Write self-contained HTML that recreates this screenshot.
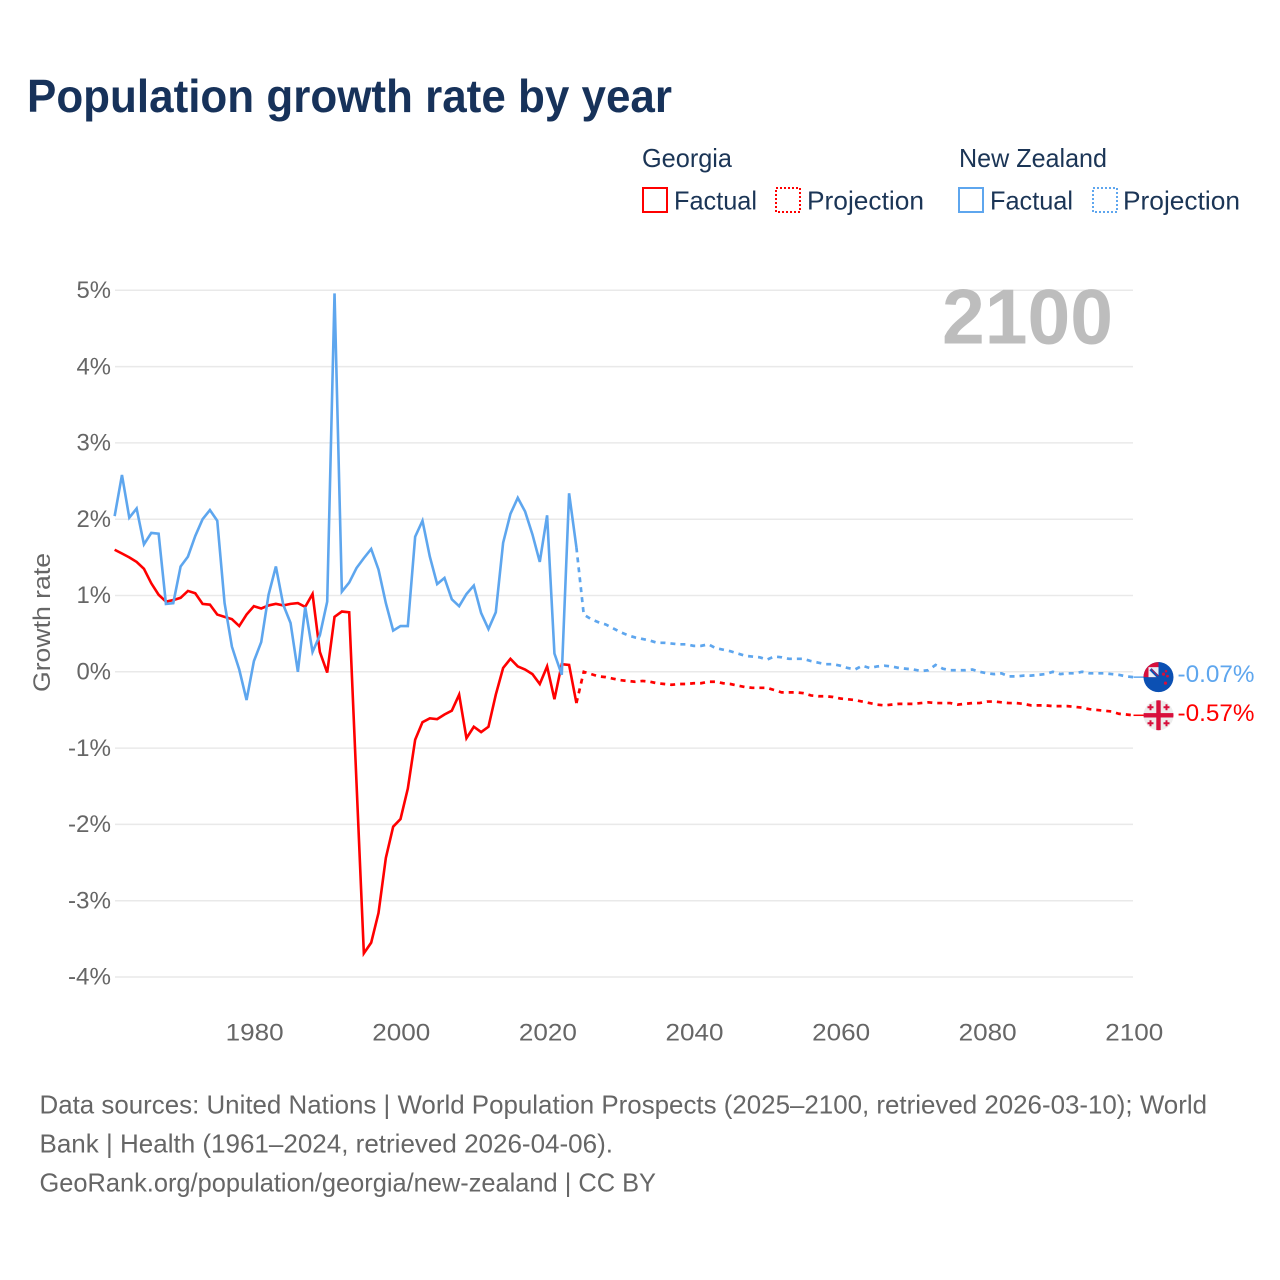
<!DOCTYPE html>
<html lang="en">
<head>
<meta charset="utf-8">
<title>Population growth rate by year</title>
<style>
html,body{margin:0;padding:0;background:#fff;width:1280px;height:1280px;overflow:hidden}
svg{display:block}
text{font-family:"Liberation Sans",sans-serif}
</style>
</head>
<body>
<svg id="chart" xmlns="http://www.w3.org/2000/svg" width="1280" height="1280" viewBox="0 0 1280 1280">
  <defs>
    <clipPath id="nz-clip"><circle cx="0" cy="0" r="15"/></clipPath>
    <clipPath id="ge-clip"><circle cx="0" cy="0" r="15"/></clipPath>
  </defs>
  <rect x="0" y="0" width="1280" height="1280" fill="#fff"/>
  <text x="27" y="112" font-size="46.5" font-weight="700" fill="#17325a" textLength="645" lengthAdjust="spacingAndGlyphs">Population growth rate by year</text>

  <g font-size="26" fill="#1b3556">
    <text x="642" y="167" textLength="90" lengthAdjust="spacingAndGlyphs">Georgia</text>
    <text x="959" y="167" textLength="148" lengthAdjust="spacingAndGlyphs">New Zealand</text>
    <g>
      <rect x="643" y="188" width="24" height="24" fill="none" stroke="#ff0000" stroke-width="2"/>
      <text x="674" y="209.5" textLength="83" lengthAdjust="spacingAndGlyphs">Factual</text>
    </g>
    <g>
      <rect x="776" y="188" width="24" height="24" fill="none" stroke="#ff0000" stroke-width="2" stroke-dasharray="2,2"/>
      <text x="807" y="209.5" textLength="117" lengthAdjust="spacingAndGlyphs">Projection</text>
    </g>
    <g>
      <rect x="959" y="188" width="24" height="24" fill="none" stroke="#5ea6ee" stroke-width="2"/>
      <text x="990" y="209.5" textLength="83" lengthAdjust="spacingAndGlyphs">Factual</text>
    </g>
    <g>
      <rect x="1093" y="188" width="24" height="24" fill="none" stroke="#5ea6ee" stroke-width="2" stroke-dasharray="2,2"/>
      <text x="1123" y="209.5" textLength="117" lengthAdjust="spacingAndGlyphs">Projection</text>
    </g>
  </g>

  <g id="grid"></g>
  <text x="1113" y="343.5" text-anchor="end" font-size="78" font-weight="700" fill="#bdbdbd" textLength="171" lengthAdjust="spacingAndGlyphs">2100</text>
  <g id="y-ticks" font-size="24.5" fill="#666666"></g>
  <g id="x-ticks" font-size="24.5" fill="#666666"></g>
  <text transform="translate(50,622.5) rotate(-90)" text-anchor="middle" font-size="24.5" fill="#666666" textLength="139" lengthAdjust="spacingAndGlyphs">Growth rate</text>
  <g id="series"></g>
  <g id="endpoints"></g>

  <g font-size="26" fill="#666666">
    <text x="39.5" y="1113.5" textLength="1167.5" lengthAdjust="spacingAndGlyphs">Data sources: United Nations | World Population Prospects (2025–2100, retrieved 2026-03-10); World</text>
    <text x="39.5" y="1152.5" textLength="573.5" lengthAdjust="spacingAndGlyphs">Bank | Health (1961–2024, retrieved 2026-04-06).</text>
    <text x="39.5" y="1191.5" textLength="616.5" lengthAdjust="spacingAndGlyphs">GeoRank.org/population/georgia/new-zealand | CC BY</text>
  </g>
</svg>
<script>
const factualStartYear = 1961;
const projectionStartYear = 2024;
const yTickValues = [5, 4, 3, 2, 1, 0, -1, -2, -3, -4];
const xTickValues = [1980, 2000, 2020, 2040, 2060, 2080, 2100];

const georgiaFactual = [1.60,1.55,1.50,1.44,1.35,1.16,1.01,0.92,0.94,0.97,1.06,1.03,0.89,0.88,0.75,0.72,0.69,0.60,0.75,0.86,0.83,0.87,0.89,0.87,0.89,0.90,0.85,1.02,0.26,-0.01,0.72,0.79,0.78,-1.46,-3.69,-3.55,-3.16,-2.44,-2.03,-1.93,-1.53,-0.89,-0.66,-0.61,-0.62,-0.56,-0.51,-0.30,-0.87,-0.72,-0.79,-0.72,-0.30,0.05,0.17,0.07,0.03,-0.03,-0.16,0.07,-0.36,0.10,0.09,-0.41];
const newZealandFactual = [2.04,2.58,2.02,2.14,1.67,1.82,1.81,0.89,0.90,1.38,1.51,1.78,2.00,2.12,1.98,0.90,0.33,0.03,-0.37,0.14,0.39,1.01,1.38,0.88,0.64,0.00,0.85,0.26,0.48,0.92,4.96,1.05,1.17,1.36,1.49,1.61,1.34,0.90,0.54,0.60,0.60,1.77,1.98,1.51,1.15,1.23,0.95,0.86,1.02,1.13,0.77,0.56,0.78,1.69,2.07,2.28,2.10,1.80,1.44,2.05,0.24,-0.04,2.34,1.63];
const georgiaProjection = [-0.41,0.00,-0.03,-0.06,-0.07,-0.09,-0.11,-0.12,-0.13,-0.12,-0.13,-0.15,-0.16,-0.17,-0.16,-0.16,-0.15,-0.15,-0.13,-0.13,-0.15,-0.16,-0.18,-0.20,-0.21,-0.21,-0.21,-0.24,-0.27,-0.27,-0.27,-0.28,-0.31,-0.32,-0.32,-0.33,-0.35,-0.36,-0.37,-0.39,-0.41,-0.43,-0.44,-0.43,-0.42,-0.42,-0.42,-0.41,-0.40,-0.41,-0.41,-0.41,-0.43,-0.42,-0.41,-0.41,-0.39,-0.39,-0.40,-0.41,-0.41,-0.42,-0.44,-0.44,-0.44,-0.45,-0.45,-0.45,-0.46,-0.47,-0.49,-0.50,-0.51,-0.52,-0.55,-0.56,-0.57];
const newZealandProjection = [1.63,0.75,0.69,0.65,0.62,0.57,0.52,0.48,0.45,0.43,0.41,0.38,0.38,0.37,0.36,0.36,0.34,0.34,0.36,0.31,0.29,0.27,0.24,0.21,0.20,0.19,0.16,0.20,0.19,0.17,0.17,0.17,0.14,0.12,0.10,0.10,0.08,0.05,0.03,0.08,0.05,0.07,0.08,0.07,0.05,0.04,0.03,0.01,0.02,0.09,0.04,0.02,0.02,0.02,0.03,0.00,-0.02,-0.03,-0.02,-0.06,-0.06,-0.05,-0.05,-0.04,-0.03,0.00,-0.03,-0.02,-0.02,0.00,-0.02,-0.02,-0.02,-0.03,-0.04,-0.06,-0.07];

const RED = '#ff0000';
const BLUE = '#5ea6ee';
const NS = 'http://www.w3.org/2000/svg';

function xScale(year) { return 400.5 + (year - 2000) * 7.33; }
function yScale(value) { return 671.8 - value * 76.3; }

function make(tag, attrs, parent) {
  const el = document.createElementNS(NS, tag);
  for (const key in attrs) el.setAttribute(key, attrs[key]);
  parent.appendChild(el);
  return el;
}

function linePath(values, startYear) {
  return values.map(function (v, i) {
    return (i ? 'L' : 'M') + xScale(startYear + i).toFixed(2) + ' ' + yScale(v).toFixed(2);
  }).join(' ');
}

function labelWidth(str) {
  let w = 0;
  for (const c of str) w += c === '%' ? 20 : c === '-' ? 8.5 : 14.5;
  return w;
}

const gridGroup = document.getElementById('grid');
const yTickGroup = document.getElementById('y-ticks');
yTickValues.forEach(function (v) {
  const line = make('line', {x1: 115, x2: 1133, y1: yScale(v), y2: yScale(v), stroke: '#e9e9e9', 'stroke-width': 1.5}, gridGroup);
  
  
  const str = v + '%';
  const label = make('text', {x: 111, y: yScale(v) + 7.7, 'text-anchor': 'end', textLength: labelWidth(str), lengthAdjust: 'spacingAndGlyphs'}, yTickGroup);
  label.textContent = str;
  
  
});

const xTickGroup = document.getElementById('x-ticks');
xTickValues.forEach(function (year) {
  const label = make('text', {x: xScale(year) + 0.8, y: 1040.5, 'text-anchor': 'middle', textLength: 58, lengthAdjust: 'spacingAndGlyphs'}, xTickGroup);
  label.textContent = String(year);
  
  
});

const seriesGroup = document.getElementById('series');

const nzProjLine = make('path', {d: linePath(newZealandProjection, projectionStartYear), fill: 'none', stroke: BLUE, 'stroke-width': 2.7, 'stroke-dasharray': '5,5'}, seriesGroup);



const geProjLine = make('path', {d: linePath(georgiaProjection, projectionStartYear), fill: 'none', stroke: RED, 'stroke-width': 2.7, 'stroke-dasharray': '5,5'}, seriesGroup);



const geLine = make('path', {d: linePath(georgiaFactual, factualStartYear), fill: 'none', stroke: RED, 'stroke-width': 2.6, 'stroke-linejoin': 'miter'}, seriesGroup);



const nzLine = make('path', {d: linePath(newZealandFactual, factualStartYear), fill: 'none', stroke: BLUE, 'stroke-width': 2.6, 'stroke-linejoin': 'miter'}, seriesGroup);



const endpoints = document.getElementById('endpoints');
const endYear = xScale(2100);
const nzLast = newZealandProjection[newZealandProjection.length - 1];
const geLast = georgiaProjection[georgiaProjection.length - 1];

const nzLead = make('line', {x1: endYear, x2: endYear + 12, y1: yScale(nzLast), y2: yScale(nzLast), stroke: BLUE, 'stroke-width': 1.5}, endpoints);


const geLead = make('line', {x1: endYear, x2: endYear + 12, y1: yScale(geLast), y2: yScale(geLast), stroke: RED, 'stroke-width': 1.5}, endpoints);



/* New Zealand flag */
const nzFlag = make('g', {transform: 'translate(' + (endYear + 25) + ',' + yScale(nzLast) + ')'}, endpoints);


const nzClip = make('g', {'clip-path': 'url(#nz-clip)'}, nzFlag);
make('rect', {x: -16, y: -16, width: 32, height: 32, fill: '#0b50b3'}, nzClip);
make('rect', {x: -15, y: -16, width: 15, height: 16, fill: '#d80f3c'}, nzClip);
make('rect', {x: -10, y: -10, width: 10, height: 10, fill: '#e9eef6'}, nzClip);
make('path', {d: 'M-8 -8 L0 0', stroke: '#0b50b3', 'stroke-width': 3, fill: 'none'}, nzClip);
make('path', {d: 'M-7 -8 L0 -1', stroke: '#d80f3c', 'stroke-width': 0.8, fill: 'none'}, nzClip);
make('rect', {x: 0, y: -16, width: 2, height: 16, fill: '#0b50b3'}, nzClip);
make('circle', {cx: 5, cy: -3, r: 1.6, fill: '#d80f3c'}, nzClip);
make('circle', {cx: 9, cy: -1, r: 1.4, fill: '#d80f3c'}, nzClip);
make('circle', {cx: 7.5, cy: -6, r: 1.3, fill: '#d80f3c'}, nzClip);
make('circle', {cx: 7, cy: 6, r: 1.6, fill: '#d80f3c'}, nzClip);

const nzValue = make('text', {x: endYear + 44, y: yScale(nzLast) + 5, 'font-size': 24.5, fill: BLUE, textLength: 77, lengthAdjust: 'spacingAndGlyphs'}, endpoints);
nzValue.textContent = nzLast.toFixed(2) + '%';



/* Georgia flag */
const geFlag = make('g', {transform: 'translate(' + (endYear + 25) + ',' + yScale(geLast) + ')'}, endpoints);


const geClip = make('g', {'clip-path': 'url(#ge-clip)'}, geFlag);
make('rect', {x: -16, y: -16, width: 32, height: 32, fill: '#ececec'}, geClip);
make('rect', {x: -16, y: -2.2, width: 32, height: 4.4, fill: '#d80f3c'}, geClip);
make('rect', {x: -2.2, y: -16, width: 4.4, height: 32, fill: '#d80f3c'}, geClip);
[[-8, -8], [8, -8], [-8, 8], [8, 8]].forEach(function (p) {
  make('path', {d: 'M' + (p[0] - 3) + ' ' + p[1] + ' H' + (p[0] + 3) + ' M' + p[0] + ' ' + (p[1] - 3) + ' V' + (p[1] + 3), stroke: '#d80f3c', 'stroke-width': 2, fill: 'none'}, geClip);
});

const geValue = make('text', {x: endYear + 44, y: yScale(geLast) + 5.5, 'font-size': 24.5, fill: RED, textLength: 77, lengthAdjust: 'spacingAndGlyphs'}, endpoints);
geValue.textContent = geLast.toFixed(2) + '%';


</script>
</body>
</html>
